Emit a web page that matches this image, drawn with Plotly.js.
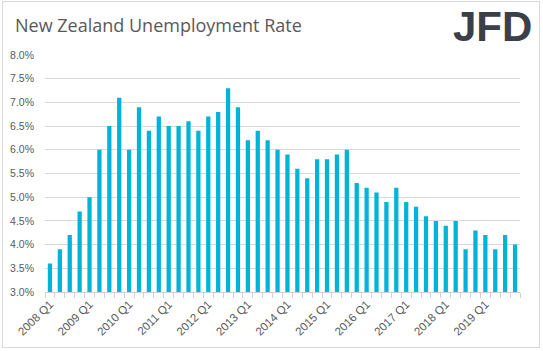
<!DOCTYPE html>
<html>
<head>
<meta charset="utf-8">
<script src="https://cdn.plot.ly/plotly-3.0.1.min.js"></script>
<style>
html,body{margin:0;padding:0;background:#fff;}
#wrap{position:relative;width:543px;height:351px;}
#chart{position:absolute;left:0;top:0;width:543px;height:351px;}
#frame{position:absolute;left:2px;top:1px;width:536px;height:345px;border:1px solid #d9d9d9;pointer-events:none;}
</style>
</head>
<body>
<div id="wrap"><div id="chart"></div><div id="frame"></div></div>
<script>
const years = [2008,2009,2010,2011,2012,2013,2014,2015,2016,2017,2018,2019];
const quarters = ["Q1","Q2","Q3","Q4"];
const categories = [];
years.forEach(y => quarters.forEach(q => categories.push(y + " " + q)));
const unemploymentRate = [
  3.6, 3.9, 4.2, 4.7,
  5.0, 6.0, 6.5, 7.1,
  6.0, 6.9, 6.4, 6.7,
  6.5, 6.5, 6.6, 6.4,
  6.7, 6.8, 7.3, 6.9,
  6.2, 6.4, 6.2, 6.0,
  5.9, 5.6, 5.4, 5.8,
  5.8, 5.9, 6.0, 5.3,
  5.2, 5.1, 4.9, 5.2,
  4.9, 4.8, 4.6, 4.5,
  4.4, 4.5, 3.9, 4.3,
  4.2, 3.9, 4.2, 4.0
];
const tickLabels = categories.map(c => c.endsWith("Q1") ? c : "");

const trace = {
  type: "bar",
  x: categories,
  y: unemploymentRate,
  marker: {color: "#00b4d8"},
  hoverinfo: "x+y"
};

const layout = {
  width: 543, height: 351,
  margin: {l: 45, r: 23, t: 55, b: 59, pad: 0},
  paper_bgcolor: "#ffffff",
  plot_bgcolor: "#ffffff",
  showlegend: false,
  bargap: 0.57,
  title: {
    text: "New Zealand Unemployment Rate",
    x: 15 / 543, xref: "container", xanchor: "left",
    y: 1 - 26 / 351, yref: "container", yanchor: "middle",
    font: {family: "Open Sans, sans-serif", size: 18, color: "#595959"}
  },
  xaxis: {
    type: "category",
    tickmode: "array",
    tickvals: categories,
    ticktext: tickLabels,
    tickson: "boundaries",
    ticks: "outside",
    ticklen: 5,
    tickcolor: "#d0d0d0",
    tickangle: -45,
    showline: true,
    linecolor: "#d0d0d0",
    showgrid: false,
    tickfont: {family: "Liberation Sans, Arial, sans-serif", size: 11.5, color: "#595959"},
    fixedrange: true
  },
  yaxis: {
    range: [3, 8],
    dtick: 0.5,
    tick0: 3,
    tickformat: ".1f",
    ticksuffix: "%",
    showgrid: true,
    gridcolor: "#d9d9d9",
    gridwidth: 1,
    zeroline: false,
    showline: false,
    ticks: "",
    ticklabelstandoff: 10,
    tickfont: {family: "Liberation Sans, Arial, sans-serif", size: 10.5, color: "#595959"},
    fixedrange: true
  },
  annotations: [{
    text: "<b>JFD</b>",
    xref: "paper", yref: "paper",
    x: 1.03, y: 1.122,
    xanchor: "right", yanchor: "middle",
    showarrow: false,
    font: {family: "Liberation Sans Narrow, Arial Narrow, Liberation Sans, Arial, sans-serif", size: 42, color: "#3b4048"}
  }]
};

Plotly.newPlot("chart", [trace], layout, {displayModeBar: false, staticPlot: true});
</script>
</body>
</html>
